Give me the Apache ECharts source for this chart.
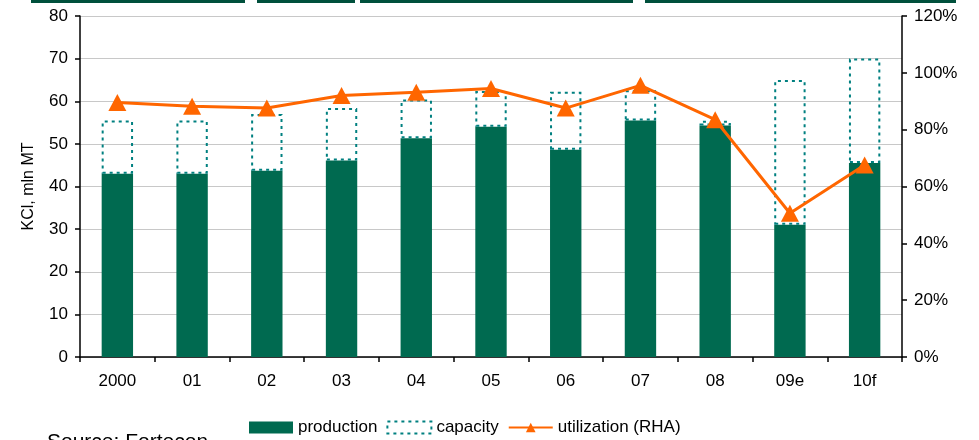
<!DOCTYPE html>
<html>
<head>
<meta charset="utf-8">
<script src="https://cdn.jsdelivr.net/npm/echarts@6/dist/echarts.min.js"></script>
<style>html,body{margin:0;padding:0;background:#fff}#c{width:979px;height:440px}</style>
</head>
<body>
<div id="c"></div>
<script>
var categories = ['2000','01','02','03','04','05','06','07','08','09e','10f'];
var production = [43.0, 43.0, 43.7, 46.1, 51.3, 54.0, 48.6, 55.5, 54.3, 31.0, 45.5];
var capacity = [55.5, 55.5, 57.0, 58.4, 60.4, 62.4, 62.2, 62.6, 55.4, 65.0, 70.0];
var utilization = [89.6, 88.2, 87.6, 92.0, 93.2, 94.5, 87.6, 95.6, 83.5, 50.6, 67.6];
var leftTicks = {min: 0, max: 80, interval: 10};
var rightTicks = {min: 0, max: 120, interval: 20};

var capacityExtra = capacity.map(function (c, i) { return Math.max(0, +(c - production[i]).toFixed(2)); });
var FONT = '"Liberation Sans", Arial, sans-serif';

var chart = echarts.init(document.getElementById('c'), null, {renderer: 'canvas'});
chart.setOption({
  animation: false,
  backgroundColor: '#ffffff',
  textStyle: {fontFamily: FONT, color: '#000'},
  grid: {left: 80, right: 77, top: 16, bottom: 83, containLabel: false},
  legend: {
    left: 244, top: 414, padding: 5,
    itemWidth: 44, itemHeight: 12, itemGap: 9,
    textStyle: {fontFamily: FONT, fontSize: 17, color: '#000'},
    data: [
      {name: 'production', icon: 'rect'},
      {name: 'capacity', icon: 'rect', itemStyle: {color: 'transparent', borderColor: '#008080', borderWidth: 2, borderType: [3, 4]}},
      {name: 'utilization (RHA)'}
    ]
  },
  xAxis: {
    type: 'category',
    data: categories,
    boundaryGap: true,
    axisLine: {lineStyle: {color: '#000', width: 1.5}},
    axisTick: {show: true, alignWithLabel: false, length: 5, lineStyle: {color: '#000', width: 1.5}},
    axisLabel: {fontFamily: FONT, fontSize: 17, color: '#000', margin: 16}
  },
  yAxis: [
    {
      type: 'value', min: leftTicks.min, max: leftTicks.max, interval: leftTicks.interval,
      name: 'KCl, mln MT', nameLocation: 'middle', nameGap: 43,
      nameTextStyle: {fontFamily: FONT, fontSize: 16, color: '#000'},
      axisLine: {show: true, lineStyle: {color: '#000', width: 1.5}},
      axisTick: {show: true, length: 5, lineStyle: {color: '#000', width: 1.5}},
      axisLabel: {fontFamily: FONT, fontSize: 17, color: '#000', margin: 12},
      splitLine: {show: true, lineStyle: {color: '#c8c8c8', width: 1}}
    },
    {
      type: 'value', min: rightTicks.min, max: rightTicks.max, interval: rightTicks.interval,
      position: 'right',
      axisLine: {show: true, lineStyle: {color: '#000', width: 1.5}},
      axisTick: {show: true, length: 5, lineStyle: {color: '#000', width: 1.5}},
      axisLabel: {fontFamily: FONT, fontSize: 17, color: '#000', margin: 12, formatter: '{value}%'},
      splitLine: {show: false}
    }
  ],
  series: [
    {
      name: 'production', type: 'bar', stack: 'cap', barWidth: '42%',
      itemStyle: {color: '#006a50'},
      data: production
    },
    {
      name: 'capacity', type: 'bar', stack: 'cap', barWidth: '42%',
      itemStyle: {color: 'transparent', borderColor: '#008080', borderWidth: 2, borderType: [3, 4]},
      data: capacityExtra
    },
    {
      name: 'utilization (RHA)', type: 'line', yAxisIndex: 1,
      symbol: 'triangle', symbolSize: [18, 17],
      lineStyle: {color: '#ff6600', width: 3},
      itemStyle: {color: '#ff6600'},
      z: 5,
      data: utilization
    }
  ],
  graphic: [
    {type: 'rect', left: 31, top: 0, shape: {width: 214, height: 3}, style: {fill: '#00503c'}},
    {type: 'rect', left: 257, top: 0, shape: {width: 98, height: 3}, style: {fill: '#00503c'}},
    {type: 'rect', left: 360, top: 0, shape: {width: 273, height: 3}, style: {fill: '#00503c'}},
    {type: 'rect', left: 645, top: 0, shape: {width: 311, height: 3}, style: {fill: '#00503c'}},
    {type: 'text', left: 47, top: 432, style: {text: 'Source: Fortecon', font: '21px "Liberation Sans", Arial, sans-serif', fill: '#000'}}
  ]
});
</script>
</body>
</html>
